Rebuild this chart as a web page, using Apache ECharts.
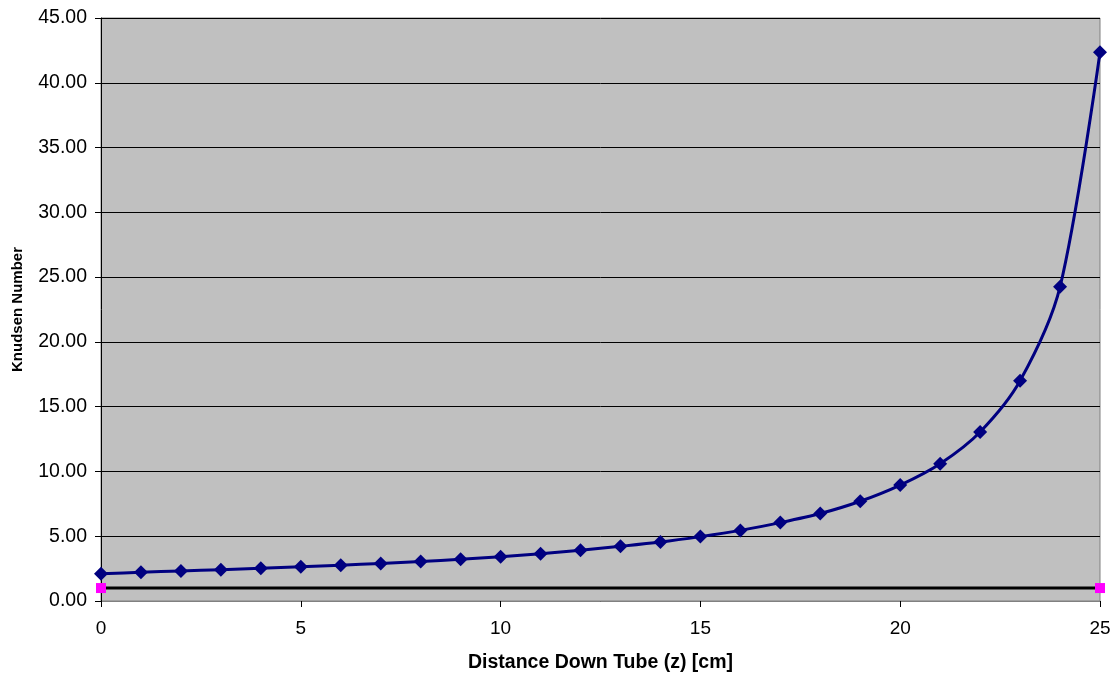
<!DOCTYPE html>
<html><head><meta charset="utf-8">
<script src="https://cdn.jsdelivr.net/npm/echarts@6/dist/echarts.min.js"></script>
<style>html,body{margin:0;padding:0;background:#fff}#c{width:1115px;height:679px}</style>
</head><body><div id="c"></div>
<script>
const zValues = [0,1,2,3,4,5,6,7,8,9,10,11,12,13,14,15,16,17,18,19,20,21,22,23,24,25];
const knudsen = [2.1,2.22,2.32,2.42,2.52,2.64,2.76,2.9,3.05,3.22,3.42,3.65,3.92,4.22,4.55,4.97,5.45,6.05,6.75,7.7,8.95,10.6,13.05,17.0,24.25,42.35];
const refX = [0,25];
const refY = [1,1];
const xTitle = 'Distance Down Tube (z) [cm]';
const yTitle = 'Knudsen Number';

const chart = echarts.init(document.getElementById('c'), null, {renderer:'canvas'});
const font = 'Liberation Sans, Arial, sans-serif';
chart.setOption({
  animation:false,
  backgroundColor:'#fff',
  grid:{left:101,right:15,top:18,bottom:78,show:true,backgroundColor:'#C0C0C0',borderColor:'#808080',borderWidth:1},
  xAxis:{type:'value',min:0,max:25,interval:5,
    name:xTitle,nameLocation:'middle',nameGap:52,
    nameTextStyle:{fontFamily:font,fontSize:19.5,fontWeight:'bold',color:'#000'},
    axisLine:{show:true,onZero:false,lineStyle:{color:'#808080',width:1}},
    axisTick:{show:true,length:6,lineStyle:{color:'#000'}},
    axisLabel:{fontFamily:font,fontSize:19,color:'#000',margin:18},
    splitLine:{show:false}},
  yAxis:{type:'value',min:0,max:45,interval:5,
    name:yTitle,nameLocation:'middle',nameGap:76,
    nameTextStyle:{fontFamily:font,fontSize:15,fontWeight:'bold',color:'#000'},
    axisLine:{show:true,lineStyle:{color:'#000',width:1}},
    axisTick:{show:true,length:6,lineStyle:{color:'#000'}},
    axisLabel:{fontFamily:font,fontSize:19.5,color:'#000',margin:14,formatter:v=>v.toFixed(2)},
    splitLine:{show:true,lineStyle:{color:'#000',width:1}}},
  series:[
    {type:'line',data:refX.map((x,i)=>[x,refY[i]]),symbol:'rect',symbolSize:10,
      lineStyle:{color:'#000',width:3},itemStyle:{color:'#FF00FF'},z:2},
    {type:'line',data:zValues.map((x,i)=>[x,knudsen[i]]),smooth:0.3,symbol:'diamond',symbolSize:14,
      lineStyle:{color:'#000080',width:3},itemStyle:{color:'#000080'},z:3}
  ]
});
</script></body></html>
